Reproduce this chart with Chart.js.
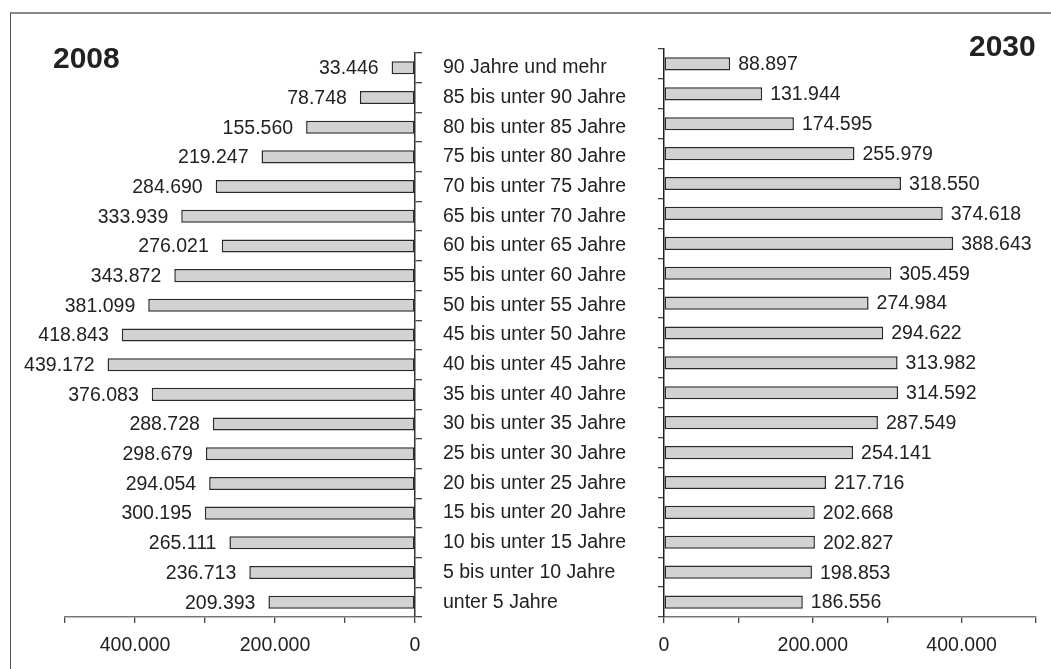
<!DOCTYPE html>
<html lang="de">
<head>
<meta charset="utf-8">
<title>Bevölkerung nach Altersgruppen 2008 und 2030</title>
<script src="https://cdn.jsdelivr.net/npm/chart.js@4.4.1/dist/chart.umd.min.js"></script>
<style>
  html, body { margin: 0; padding: 0; background: #fff; overflow: hidden; }
  body { width: 1051px; height: 669px; position: relative; font-family: "Liberation Sans", Arial, sans-serif; }
  #frame {
    position: absolute; left: 10px; top: 12px; width: 1100px; height: 700px;
    border-top: 2px solid #8a8a8a; border-left: 1.5px solid #555; box-sizing: border-box;
  }
  canvas { position: absolute; top: 0; }
  #cLeft { left: 0; }
  #cRight { left: 640px; }
  .year {
    position: absolute; font-weight: bold; font-size: 30px; line-height: 30px;
    color: #222; white-space: nowrap;
  }
</style>
</head>
<body>
<div id="frame"></div>
<canvas id="cLeft" width="640" height="669"></canvas>
<canvas id="cRight" width="411" height="669"></canvas>
<div class="year" style="left:53px; top:43px;">2008</div>
<div class="year" style="left:969px; top:31px;">2030</div>

<script>
// Age groups, oldest first (top of the pyramid)
const ageGroups = [
  "90 Jahre und mehr",
  "85 bis unter 90 Jahre",
  "80 bis unter 85 Jahre",
  "75 bis unter 80 Jahre",
  "70 bis unter 75 Jahre",
  "65 bis unter 70 Jahre",
  "60 bis unter 65 Jahre",
  "55 bis unter 60 Jahre",
  "50 bis unter 55 Jahre",
  "45 bis unter 50 Jahre",
  "40 bis unter 45 Jahre",
  "35 bis unter 40 Jahre",
  "30 bis unter 35 Jahre",
  "25 bis unter 30 Jahre",
  "20 bis unter 25 Jahre",
  "15 bis unter 20 Jahre",
  "10 bis unter 15 Jahre",
  "5 bis unter 10 Jahre",
  "unter 5 Jahre"
];

const pop2008 = [
  33446, 78748, 155560, 219247, 284690, 333939, 276021, 343872, 381099, 418843,
  439172, 376083, 288728, 298679, 294054, 300195, 265111, 236713, 209393
];

const pop2030 = [
  88897, 131944, 174595, 255979, 318550, 374618, 388643, 305459, 274984, 294622,
  313982, 314592, 287549, 254141, 217716, 202668, 202827, 198853, 186556
];

// Value axis: 0 … 500.000, tick every 100.000, labelled every 200.000
const axisMax = 500000;
const axisStep = 100000;
const labelStep = 200000;

const FONT = "'Liberation Sans', Arial, sans-serif";
const TEXT = "#222";
const BAR_FILL = "#d2d2d2";
const BAR_LINE = "#2a2a2a";

function fmt(v) {
  return String(Math.round(v)).replace(/\B(?=(\d{3})+(?!\d))/g, ".");
}

// Writes each bar's value beside its outer end
function valueLabels(side, gap) {
  return {
    id: "valueLabels" + side,
    afterDatasetsDraw(chart) {
      const ctx = chart.ctx;
      const meta = chart.getDatasetMeta(0);
      const data = chart.data.datasets[0].data;
      ctx.save();
      ctx.font = "19.5px " + FONT;
      ctx.fillStyle = TEXT;
      ctx.textBaseline = "middle";
      meta.data.forEach((bar, i) => {
        const txt = fmt(data[i]);
        if (side === "left") {
          ctx.textAlign = "right";
          ctx.fillText(txt, bar.x - gap, bar.y + 1);
        } else {
          ctx.textAlign = "left";
          ctx.fillText(txt, bar.x + gap, bar.y + 1);
        }
      });
      ctx.restore();
    }
  };
}

function valueAxis(reverse) {
  return {
    type: "linear",
    reverse: reverse,
    min: 0,
    max: axisMax,
    afterFit(scale) { scale.height = 52; },
    ticks: {
      stepSize: axisStep,
      autoSkip: false,
      maxRotation: 0,
      padding: 11,
      color: TEXT,
      font: { family: FONT, size: 19.5 },
      callback: (v) => (v % labelStep === 0 ? fmt(v) : "")
    },
    grid: {
      drawOnChartArea: false,
      drawTicks: true,
      tickLength: 6,
      color: "#444",
      lineWidth: 1.3
    },
    border: { display: true, color: "#777", width: 1.5 }
  };
}

function barDataset(values) {
  return {
    data: values,
    backgroundColor: BAR_FILL,
    borderColor: BAR_LINE,
    borderWidth: 1.5,
    borderSkipped: false,
    barPercentage: 0.44,
    categoryPercentage: 1.0
  };
}

const common = {
  responsive: false,
  animation: false,
  devicePixelRatio: 1,
  indexAxis: "y",
  plugins: { legend: { display: false }, tooltip: { enabled: false }, title: { display: false } }
};

// 2008: bars grow leftwards, age-group names sit on the right-hand axis
new Chart(document.getElementById("cLeft"), {
  type: "bar",
  data: { labels: ageGroups, datasets: [barDataset(pop2008)] },
  options: Object.assign({}, common, {
    layout: { padding: { left: 65, top: 53, right: 0, bottom: 0 } },
    scales: {
      x: valueAxis(true),
      y: {
        type: "category",
        position: "right",
        offset: true,
        afterFit(scale) { scale.width = 225; },
        ticks: {
          color: TEXT,
          padding: 21,
          autoSkip: false,
          font: { family: FONT, size: 19.5 }
        },
        grid: {
          offset: true,
          drawOnChartArea: false,
          drawTicks: true,
          tickLength: 7,
          color: "#444",
          lineWidth: 1.3
        },
        border: { display: true, color: "#333", width: 1.5 }
      }
    }
  }),
  plugins: [valueLabels("left", 13)]
});

// 2030: bars grow rightwards from a plain axis
new Chart(document.getElementById("cRight"), {
  type: "bar",
  data: { labels: ageGroups, datasets: [barDataset(pop2030)] },
  options: Object.assign({}, common, {
    layout: { padding: { left: 0, top: 49, right: 15, bottom: 0 } },
    scales: {
      x: valueAxis(false),
      y: {
        type: "category",
        position: "left",
        offset: true,
        afterFit(scale) { scale.width = 24; },
        ticks: { display: false, autoSkip: false },
        grid: {
          offset: true,
          drawOnChartArea: false,
          drawTicks: true,
          tickLength: 6,
          color: "#444",
          lineWidth: 1.3
        },
        border: { display: true, color: "#222", width: 1.5 }
      }
    }
  }),
  plugins: [valueLabels("right", 8)]
});
</script>
</body>
</html>
